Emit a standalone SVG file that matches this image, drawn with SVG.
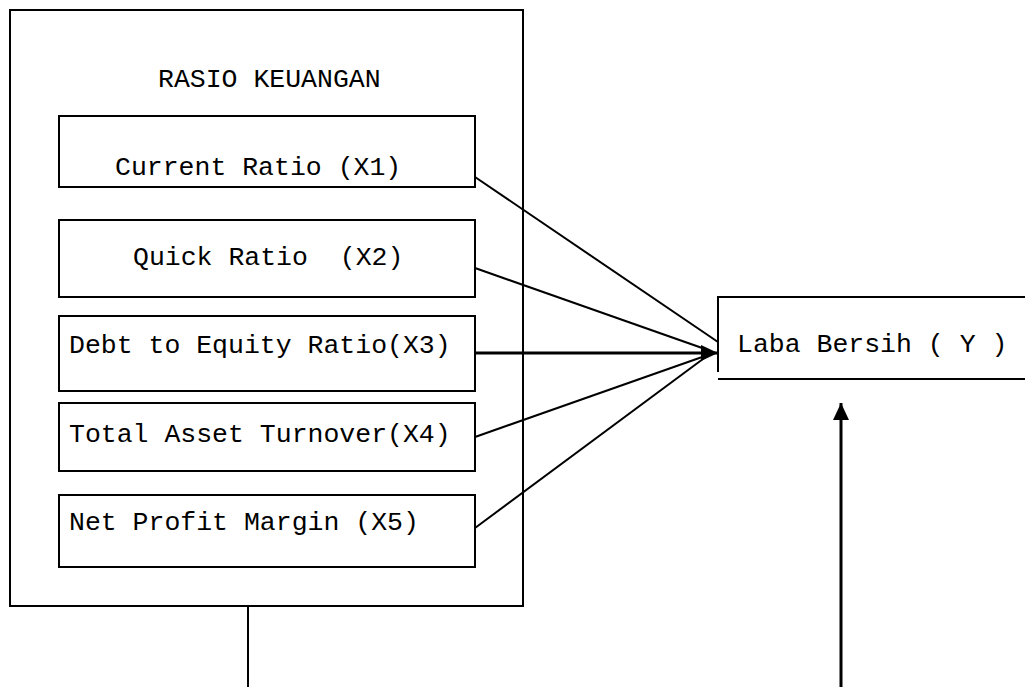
<svg xmlns="http://www.w3.org/2000/svg" width="1025" height="687" viewBox="0 0 1025 687">
<style>
.box{fill:#fff;stroke:#000;stroke-width:2}
.t{font-family:"Liberation Mono","Courier New",monospace;font-size:26.5px;fill:#000;white-space:pre}
.c{stroke:#000;stroke-width:2;fill:none}
.c.k{stroke-width:3}
</style>
<defs>
<marker id="ah" markerWidth="18" markerHeight="18" refX="17" refY="9" orient="auto" markerUnits="userSpaceOnUse" overflow="visible">
<path d="M0,1 L17,9 L0,17 Z" fill="#000"/>
</marker>
</defs>
<rect width="1025" height="687" fill="#fff"/>
<g id="rasio">
<rect class="box" x="10" y="10" width="513" height="596"/>
<text class="t" x="158" y="87">RASIO KEUANGAN</text>
</g>
<g id="x1"><rect class="box" x="59" y="116" width="416" height="71"/><text class="t" x="115" y="175">Current Ratio (X1)</text></g>
<g id="x2"><rect class="box" x="59" y="220" width="416" height="77"/><text class="t" x="133" y="265">Quick Ratio  (X2)</text></g>
<g id="x3"><rect class="box" x="59" y="316" width="416" height="75"/><text class="t" x="69" y="353">Debt to Equity Ratio(X3)</text></g>
<g id="x4"><rect class="box" x="59" y="403" width="416" height="68"/><text class="t" x="69" y="442">Total Asset Turnover(X4)</text></g>
<g id="x5"><rect class="box" x="59" y="495" width="416" height="72"/><text class="t" x="69" y="530">Net Profit Margin (X5)</text></g>
<g id="y">
<path class="c" d="M1030,297 H718 V372"/>
<path class="c" d="M718,379 H1030"/>
<text class="t" x="737" y="352">Laba Bersih ( Y )</text>
</g>
<g id="connectors">
<line class="c" x1="475" y1="177" x2="718" y2="342"/>
<line class="c" x1="475" y1="268" x2="705" y2="349"/>
<line class="c k" x1="475" y1="353" x2="718" y2="353" marker-end="url(#ah)"/>
<line class="c" x1="475" y1="437" x2="705" y2="356"/>
<line class="c" x1="475" y1="528" x2="707" y2="356"/>
<line class="c" x1="248" y1="606" x2="248" y2="687"/>
<line class="c k" x1="841" y1="687" x2="841" y2="403" marker-end="url(#ah)"/>
</g>
</svg>
